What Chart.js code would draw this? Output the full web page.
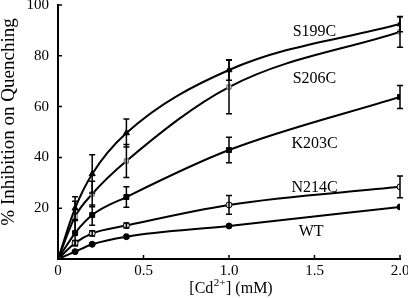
<!DOCTYPE html>
<html>
<head>
<meta charset="utf-8">
<script src="https://cdn.jsdelivr.net/npm/chart.js@4/dist/chart.umd.min.js"></script>
<style>
  html, body { margin: 0; padding: 0; background: #fff; }
  #wrap { width: 408px; height: 298px; }
</style>
</head>
<body>
<div id="wrap"><canvas id="chart" width="408" height="298"></canvas></div>
<script>
const SERIF = "'Liberation Serif', 'Times New Roman', serif";

// concentrations of Cd2+ (mM)
const cdConc = [0, 0.1, 0.2, 0.4, 1.0, 2.0];

const s199c = [0, 20, 33.5, 49.6, 74.4, 92.5];
const s199cErr = [0, 4.5, 7.5, 5.5, 4, 3];
const s206c = [0, 16.7, 25.6, 38.6, 67.7, 89.4];
const s206cErr = [0, 6, 5, 6.5, 10.5, 6];
const k203c = [0, 10.2, 17.3, 24.4, 42.9, 63.8];
const k203cErr = [0, 5, 4, 4, 5, 4.5];
const n214c = [0, 6.3, 10.1, 13.2, 21.3, 28.4];
const n214cErr = [0, 1, 1, 1, 3.7, 4.3];
const wt = [0, 2.9, 5.8, 8.8, 13, 20.5];

const xTicks = [0, 0.5, 1.0, 1.5, 2.0];
const yTicks = [0, 20, 40, 60, 80, 100];

// series labels, placed in data units
const seriesNames = ["S199C", "S206C", "K203C", "N214C", "WT"];
const nameX = [1.5, 1.5, 1.5, 1.5, 1.48];
const nameY = [90, 71.5, 45.8, 28.4, 11.2];

function toPoints(ys) {
  return cdConc.map((x, i) => ({ x: x, y: ys[i] }));
}

function series(label, ys, errs, style, radius, fill, border) {
  return {
    label: label,
    data: toPoints(ys),
    errors: errs,
    borderColor: "#000",
    borderWidth: 2,
    pointStyle: style,
    pointRadius: radius,
    pointBackgroundColor: fill,
    pointBorderColor: border,
    pointBorderWidth: 1,
    cubicInterpolationMode: "monotone",
    fill: false,
  };
}

const errorBars = {
  id: "errorBars",
  afterDatasetsDraw(chart) {
    const ctx = chart.ctx;
    const xs = chart.scales.x, ys = chart.scales.y;
    ctx.save();
    ctx.strokeStyle = "#000";
    ctx.lineWidth = 1.5;
    chart.data.datasets.forEach((ds) => {
      if (!ds.errors) return;
      ds.data.forEach((p, i) => {
        const e = ds.errors[i];
        if (!e) return;
        const px = xs.getPixelForValue(p.x);
        const top = ys.getPixelForValue(p.y + e);
        const bot = ys.getPixelForValue(p.y - e);
        ctx.beginPath();
        ctx.moveTo(px, top); ctx.lineTo(px, bot);
        ctx.moveTo(px - 3, top); ctx.lineTo(px + 3, top);
        ctx.moveTo(px - 3, bot); ctx.lineTo(px + 3, bot);
        ctx.stroke();
      });
    });
    ctx.restore();
  },
};

const decorations = {
  id: "decorations",
  afterDraw(chart) {
    const ctx = chart.ctx;
    const xs = chart.scales.x, ys = chart.scales.y;
    const area = chart.chartArea;
    ctx.save();
    // inward tick marks
    ctx.strokeStyle = "#000";
    ctx.lineWidth = 1.5;
    ctx.beginPath();
    yTicks.forEach((v) => {
      const py = ys.getPixelForValue(v);
      ctx.moveTo(area.left, py); ctx.lineTo(area.left + 4, py);
    });
    xTicks.forEach((v) => {
      const px = xs.getPixelForValue(v);
      ctx.moveTo(px, area.bottom); ctx.lineTo(px, area.bottom - 4);
    });
    ctx.stroke();

    // series names
    ctx.fillStyle = "#000";
    ctx.font = "16px " + SERIF;
    ctx.textAlign = "center";
    ctx.textBaseline = "alphabetic";
    seriesNames.forEach((name, i) => {
      ctx.fillText(name, xs.getPixelForValue(nameX[i]), ys.getPixelForValue(nameY[i]) + 5.5);
    });

    // x axis title with superscript
    const cx = (area.left + area.right) / 2 + 2;
    const base = 293;
    const p1 = "[Cd", sup = "2+", p2 = "] (mM)";
    ctx.font = "16px " + SERIF;
    const w1 = ctx.measureText(p1).width;
    const w3 = ctx.measureText(p2).width;
    ctx.font = "11px " + SERIF;
    const w2 = ctx.measureText(sup).width + 1;
    let x0 = cx - (w1 + w2 + w3) / 2;
    ctx.textAlign = "left";
    ctx.font = "16px " + SERIF;
    ctx.fillText(p1, x0, base);
    ctx.font = "11px " + SERIF;
    ctx.fillText(sup, x0 + w1 + 0.5, base - 7);
    ctx.font = "16px " + SERIF;
    ctx.fillText(p2, x0 + w1 + w2, base);

    // y axis title
    ctx.translate(14, (area.top + area.bottom) / 2 - 10);
    ctx.rotate(-Math.PI / 2);
    ctx.textAlign = "center";
    ctx.font = "19px " + SERIF;
    ctx.fillText("% Inhibition on Quenching", 0, 0);
    ctx.restore();
  },
};

new Chart(document.getElementById("chart"), {
  type: "line",
  data: {
    datasets: [
      series("S199C", s199c, s199cErr, "triangle", 3.5, "#000", "#000"),
      series("S206C", s206c, s206cErr, "rect", 3, "#e0e0e0", "#666"),
      series("K203C", k203c, k203cErr, "rect", 3.5, "#000", "#000"),
      series("N214C", n214c, n214cErr, "circle", 3, "#ddd", "#000"),
      series("WT", wt, null, "circle", 3, "#000", "#000"),
    ],
  },
  options: {
    responsive: false,
    animation: false,
    layout: { padding: { top: 5, right: 8, left: 0, bottom: 0 } },
    plugins: {
      legend: { display: false },
      tooltip: { enabled: false },
    },
    scales: {
      x: {
        type: "linear",
        min: 0,
        max: 2,
        afterBuildTicks: (scale) => {
          scale.ticks = xTicks.map((v) => ({ value: v }));
        },
        afterFit: (scale) => {
          scale.height = 39;
          scale.paddingLeft = 0;
          scale.paddingRight = 0;
        },
        grid: { display: false, drawTicks: false },
        border: { display: true, color: "#000", width: 2 },
        ticks: {
          color: "#000",
          padding: 3,
          font: { family: SERIF, size: 15 },
          maxRotation: 0,
          callback: (v) => (v === 0 ? "0" : Number(v).toFixed(1)),
        },
      },
      y: {
        min: 0,
        max: 100,
        afterBuildTicks: (scale) => {
          scale.ticks = yTicks.map((v) => ({ value: v }));
        },
        afterFit: (scale) => {
          scale.width = 58;
          scale.paddingTop = 0;
          scale.paddingBottom = 0;
        },
        grid: { display: false, drawTicks: false },
        border: { display: true, color: "#000", width: 2 },
        ticks: {
          color: "#000",
          padding: 9,
          font: { family: SERIF, size: 15 },
          callback: (v) => (v === 0 ? "" : String(v)),
        },
      },
    },
  },
  plugins: [errorBars, decorations],
});
</script>
</body>
</html>
